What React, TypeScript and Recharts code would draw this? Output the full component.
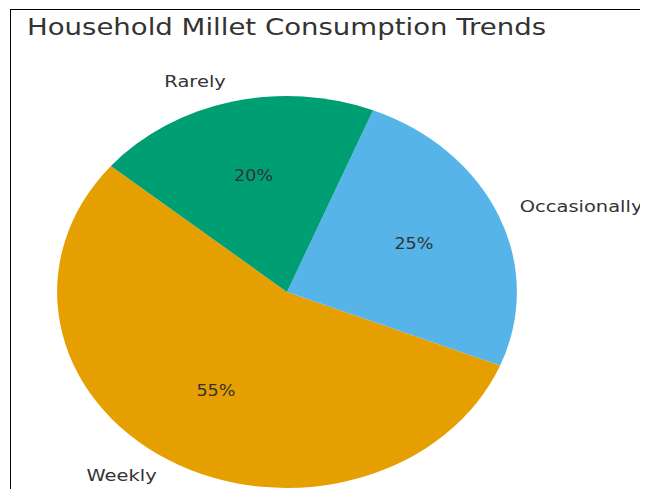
import React from "react";
import { PieChart, Pie, Cell } from "recharts";

const categories = ["Weekly", "Occasionally", "Rarely"];
const shares = [55, 25, 20];
const colors = ["#E69F00", "#56B4E9", "#009E73"];

const data = categories.map((name, i) => ({ name, value: shares[i] }));

// the reference picture is stretched horizontally, so the whole chart is drawn narrow and scaled
const STRETCH = 1.173;
const RAD = Math.PI / 180;
const FONT = "'DejaVu Sans', sans-serif";

const renderLabel = (props: any) => {
  const { cx, cy, midAngle, outerRadius, percent, name } = props;
  const cos = Math.cos(-midAngle * RAD);
  const sin = Math.sin(-midAngle * RAD);
  const lr = outerRadius * 1.1;
  const pr = outerRadius * 0.6;
  return (
    <g>
      <text
        x={cx + lr * cos}
        y={cy + lr * sin - 2}
        textAnchor={cos >= 0 ? "start" : "end"}
        dominantBaseline="central"
        fill="#333"
        fontSize={16.6}
        fontFamily={FONT}
      >
        {name}
      </text>
      <text
        x={cx + pr * cos}
        y={cy + pr * sin - 2}
        textAnchor="middle"
        dominantBaseline="central"
        fill="#333"
        fontSize={15}
        fontFamily={FONT}
      >
        {Math.round(percent * 100)}%
      </text>
    </g>
  );
};

export default function App() {
  const w = 648 / STRETCH;
  return (
    <div style={{ position: "relative", width: 648, height: 497, margin: -8, background: "#fff", overflow: "hidden" }}>
      <div
        style={{
          position: "absolute",
          left: 10,
          top: 9,
          right: 0,
          bottom: 0,
          borderLeft: "1px solid #000",
          borderTop: "1px solid #000",
        }}
      />
      <div
        style={{
          position: "absolute",
          left: 0,
          top: 0,
          width: w,
          height: 497,
          transform: `scaleX(${STRETCH})`,
          transformOrigin: "0 0",
        }}
      >
        <div
          style={{
            position: "absolute",
            left: 23,
            top: 13,
            fontFamily: FONT,
            fontSize: 23.5,
            color: "#333",
            whiteSpace: "nowrap",
            lineHeight: "28px",
          }}
        >
          Household Millet Consumption Trends
        </div>
        <PieChart
          width={w}
          height={497}
          margin={{ top: 0, right: 0, bottom: 0, left: 0 }}
          style={{ position: "absolute", left: 0, top: 0, overflow: "visible" }}
        >
          <Pie
            data={data}
            dataKey="value"
            nameKey="name"
            cx={287 / STRETCH}
            cy={292}
            outerRadius={196}
            startAngle={140}
            endAngle={500}
            stroke="none"
            label={renderLabel}
            labelLine={false}
            isAnimationActive={false}
          >
            {data.map((d, i) => (
              <Cell key={d.name} fill={colors[i]} />
            ))}
          </Pie>
        </PieChart>
      </div>
    </div>
  );
}
